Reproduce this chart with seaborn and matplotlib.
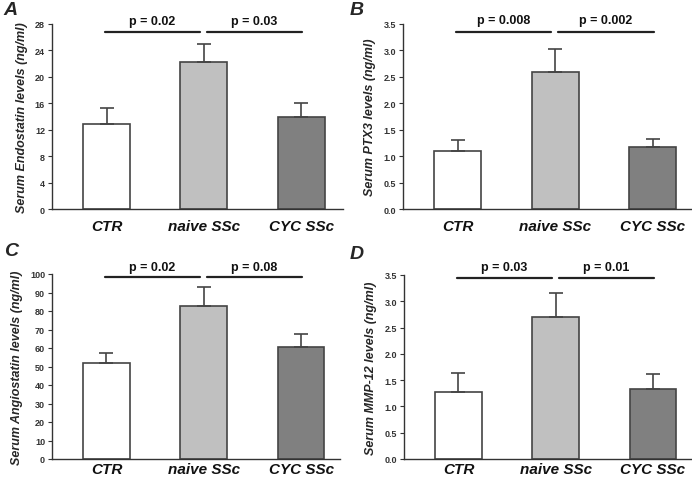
import seaborn as sns
import pandas as pd
import matplotlib.pyplot as plt
import numpy as np

# Group labels and bar colours
groups = ['CTR', 'naive SSc', 'CYC SSc']
bar_colors = ['#ffffff', '#c0c0c0', '#808080']

# Mean values and upper error (mean + SEM)
endostatin = [12.8, 22.2, 13.9]
endostatin_top = [15.3, 25.0, 16.0]
ptx3 = [1.09, 2.60, 1.17]
ptx3_top = [1.31, 3.03, 1.33]
angiostatin = [52.0, 82.5, 60.5]
angiostatin_top = [57.5, 93.0, 67.5]
mmp12 = [1.28, 2.70, 1.34]
mmp12_top = [1.64, 3.16, 1.61]

p_values = {
    'A': ['p = 0.02', 'p = 0.03'],
    'B': ['p = 0.008', 'p = 0.002'],
    'C': ['p = 0.02', 'p = 0.08'],
    'D': ['p = 0.03', 'p = 0.01'],
}

sns.set_style('ticks')
plt.rcParams['font.family'] = ['Liberation Sans', 'DejaVu Sans']

fig = plt.figure(figsize=(6.92, 4.81), dpi=100)
W, H = 692, 481


def px_axes(left, right, top, bottom):
    return fig.add_axes([left / W, (H - bottom) / H, (right - left) / W, (bottom - top) / H])


panels = [
    # letter, rect, values, tops, ymax, step, fmt, ylabel, line y, text y, xlim, x pad
    ('A', (52, 343, 25, 210), endostatin, endostatin_top, 28, 4, '{:.0f}',
     'Serum Endostatin levels (ng/ml)', 26.8, 28.5, (-0.56, 2.43), 7),
    ('B', (403, 691, 25, 210), ptx3, ptx3_top, 3.5, 0.5, '{:.1f}',
     'Serum PTX3 levels (ng/ml)', 3.34, 3.57, (-0.56, 2.39), 7),
    ('C', (52, 340, 275, 460), angiostatin, angiostatin_top, 100, 10, '{:.0f}',
     'Serum Angiostatin levels (ng/ml)', 98.5, 104.0, (-0.56, 2.40), 2.5),
    ('D', (404, 691, 276, 460), mmp12, mmp12_top, 3.5, 0.5, '{:.1f}',
     'Serum MMP-12 levels (ng/ml)', 3.45, 3.65, (-0.56, 2.39), 2.5),
]

letter_pos = {'A': (3, 2), 'B': (350, 2), 'C': (4, 243), 'D': (350, 246)}

for letter, rect, vals, tops, ymax, step, fmt, ylabel, line_y, text_y, xlim, xpad in panels:
    ax = px_axes(*rect)
    df = pd.DataFrame({'group': groups, 'value': vals})
    sns.barplot(data=df, x='group', y='value', hue='group', palette=bar_colors,
                edgecolor='#444444', linewidth=1.2, width=0.48, legend=False, ax=ax)
    err_up = np.array(tops) - np.array(vals)
    ax.errorbar(range(3), vals, yerr=[np.zeros(3), err_up], fmt='none',
                ecolor='#444444', elinewidth=1.2, capsize=5, capthick=1.2, zorder=3)

    ax.set_xlim(*xlim)
    ax.set_ylim(0, ymax)
    ticks = np.arange(0, ymax + step / 2, step)
    ax.set_yticks(ticks)
    ax.set_yticklabels([fmt.format(t) for t in ticks], fontsize=6.5, fontweight='bold')
    ax.tick_params(axis='y', length=3, width=0.8, pad=2, colors='#333333')
    ax.tick_params(axis='x', length=0, pad=xpad)
    for lab in ax.get_xticklabels():
        lab.set_fontsize(11)
        lab.set_fontweight('bold')
        lab.set_fontstyle('italic')
        lab.set_color('#111111')
    ax.set_xlabel('')
    ax.set_ylabel(ylabel, fontsize=9, fontweight='bold', fontstyle='italic', labelpad=5)
    for side in ['top', 'right']:
        ax.spines[side].set_visible(False)
    for side in ['left', 'bottom']:
        ax.spines[side].set_color('#333333')
        ax.spines[side].set_linewidth(1.0)

    # significance bars
    segs = [(-0.02, 0.96), (1.03, 2.01)]
    for (x0, x1), txt in zip(segs, p_values[letter]):
        ax.plot([x0, x1], [line_y, line_y], color='#222222', lw=1.6, clip_on=False)
        ax.text((x0 + x1) / 2, text_y, txt, ha='center', va='center',
                fontsize=9, fontweight='bold', color='#111111', clip_on=False)

    lx, ly = letter_pos[letter]
    fig.text(lx / W, 1 - ly / H, letter, ha='left', va='top', fontsize=14,
             fontweight='bold', fontstyle='italic')

fig.savefig('out.png', dpi=100)
